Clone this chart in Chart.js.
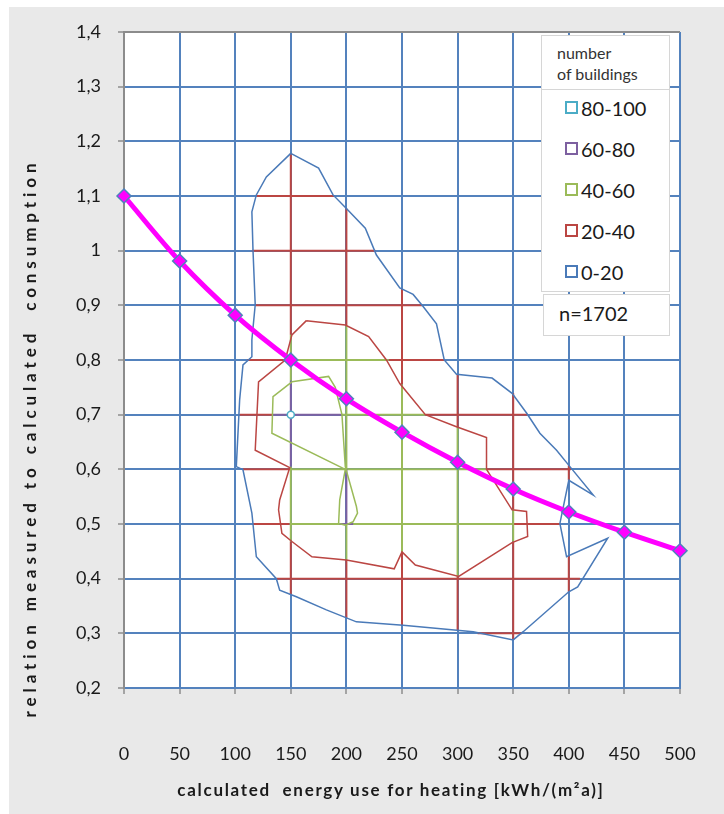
<!DOCTYPE html>
<html>
<head>
<meta charset="utf-8">
<title>Measured vs calculated heating consumption</title>
<script src="https://cdn.jsdelivr.net/npm/chart.js@4.4.1/dist/chart.umd.min.js"></script>
<style>
  html, body { margin: 0; padding: 0; background: #fff; }
  #page  { position: relative; width: 724px; height: 814px; overflow: hidden;
           font-family: Lato, 'Open Sans', sans-serif; color: #1a1a1a; }
  #panel { position: absolute; left: 9px; top: 7px; width: 715px; height: 807px; background: #e9e9e9; }
  #chart { position: absolute; left: 0; top: 0; }

  .axis-title { position: absolute; font-weight: 700; font-size: 17px; white-space: pre;
                text-align: center; width: 700px; height: 20px; line-height: 20px; }
  #y-title { left: -320px; top: 428px; transform: rotate(-90deg); letter-spacing: 4.9px; }
  #x-title { left: 41px; top: 780px; letter-spacing: 1.7px; }

  .legend-box { position: absolute; background: #fff; border: 1px solid #d6d6d6; box-sizing: border-box; }
  #legend     { left: 541px; top: 35px; width: 129px; height: 257px; }
  #legend-head { height: 54px; box-sizing: border-box; padding: 6px 0 0 15px; font-size: 16px;
                 line-height: 21px; border-bottom: 1px solid #d6d6d6; color: #333; }
  #legend-rows { margin-top: -3px; }
  .legend-row { height: 41px; display: flex; align-items: center; padding-left: 23px; font-size: 20px; }
  .legend-swatch { flex: none; width: 13px; height: 13px; box-sizing: border-box; border: 2px solid;
                   margin-right: 3px; background: #fff; }
  #sample { left: 543px; top: 294px; width: 127px; height: 42px; font-size: 20px;
            line-height: 36px; padding-left: 15px; }
</style>
</head>
<body>
<div id="page">
  <div id="panel"><canvas id="chart" width="715" height="807"></canvas></div>
  <div class="axis-title" id="y-title">relation measured to calculated  consumption</div>
  <div class="axis-title" id="x-title">calculated  energy use for heating [kWh/(m²a)]</div>
  <div class="legend-box" id="legend">
    <div id="legend-head"></div>
    <div id="legend-rows"></div>
  </div>
  <div class="legend-box" id="sample"></div>
</div>

<script>
// ── Axis ticks ────────────────────────────────────────────────────────────────
const X_TICKS = [0, 50, 100, 150, 200, 250, 300, 350, 400, 450, 500]
const Y_TICKS = [0.2, 0.3, 0.4, 0.5, 0.6, 0.7, 0.8, 0.9, 1.0, 1.1, 1.2, 1.3, 1.4]

// ── Trend curve (magenta) ─────────────────────────────────────────────────────
const TREND_X = [0, 50, 100, 150, 200, 250, 300, 350, 400, 450, 500]
const TREND_Y = [1.1, 0.981, 0.882, 0.8, 0.729, 0.668, 0.613, 0.564, 0.522, 0.485, 0.451]

// ── Contour lines [x, y] ──────────────────────────────────────────────────────
const CONTOUR_0_20 = [
  [150, 1.178], [175, 1.151], [188, 1.102], [200, 1.077], [217, 1.041], [227, 0.992],
  [248, 0.932], [260, 0.92], [269, 0.898], [281, 0.866], [288, 0.80], [299, 0.774],
  [331, 0.767], [349, 0.739], [362, 0.703], [374, 0.666], [389, 0.635], [401, 0.605],
  [422, 0.553], [400, 0.58], [392, 0.501], [398, 0.44], [435, 0.474], [408, 0.385],
  [400, 0.376], [359, 0.303], [350, 0.288], [314, 0.303], [251, 0.315], [209, 0.321],
  [182, 0.343], [155, 0.367], [140, 0.379], [137, 0.40], [119, 0.44], [115, 0.52],
  [107, 0.599], [101, 0.605], [104, 0.727], [107, 0.791], [115, 0.806], [115, 0.837],
  [118, 0.901], [116, 1.001], [115, 1.071], [119, 1.102], [128, 1.135], [150, 1.178],
]
const CONTOUR_20_40 = [
  [164, 0.872], [199, 0.864], [220, 0.843], [236, 0.80], [248, 0.757], [271, 0.70],
  [299, 0.678], [326, 0.658], [326, 0.60], [349, 0.526], [362, 0.523], [363, 0.477],
  [349, 0.466], [301, 0.404], [262, 0.425], [250, 0.449], [243, 0.418], [200, 0.434],
  [169, 0.44], [151, 0.468], [142, 0.483], [139, 0.526], [140, 0.544], [149, 0.603],
  [118, 0.635], [121, 0.76], [145, 0.80], [151, 0.846], [164, 0.872],
]
const CONTOUR_40_60 = [
  [151, 0.76], [184, 0.77], [190, 0.75], [196, 0.70], [199, 0.605], [209, 0.532],
  [210, 0.52], [206, 0.504], [199, 0.498], [193, 0.501], [194, 0.544], [199, 0.60],
  [133, 0.666], [134, 0.733], [151, 0.76],
]
const PEAK_80_100 = [[150, 0.7]]

// ── Surface mesh coloured by band: horizontal [y, x1, x2], vertical [x, y1, y2] ─
const MESH_H_20_40 = [
  [1.1, 119, 189], [1.0, 115, 226], [0.9, 118, 268], [0.8, 111, 145], [0.8, 238, 288],
  [0.7, 104, 134], [0.7, 271, 363], [0.6, 107, 149], [0.6, 326, 402], [0.5, 116, 149],
  [0.5, 349, 392], [0.4, 137, 410], [0.3, 318, 358],
]
const MESH_V_20_40 = [
  [150, 1.178, 0.846], [150, 0.468, 0.371], [200, 1.077, 0.864], [200, 0.434, 0.328],
  [250, 0.930, 0.755], [250, 0.449, 0.315], [300, 0.774, 0.677], [300, 0.404, 0.306],
  [350, 0.739, 0.527], [350, 0.468, 0.288], [400, 0.607, 0.58], [400, 0.442, 0.376],
]
const MESH_H_40_60 = [[0.8, 145, 238], [0.7, 196, 271], [0.6, 149, 326], [0.5, 149, 194], [0.5, 206, 349]]
const MESH_V_40_60 = [
  [150, 0.846, 0.762], [150, 0.605, 0.468], [200, 0.864, 0.6], [200, 0.5, 0.434],
  [250, 0.755, 0.449], [300, 0.677, 0.404], [350, 0.527, 0.468],
]
const MESH_H_60_80 = [[0.7, 134, 196], [0.5, 194, 206]]
const MESH_V_60_80 = [[150, 0.762, 0.605], [200, 0.6, 0.5]]

// ── Legend ────────────────────────────────────────────────────────────────────
const LEGEND_TITLE  = ['number', 'of buildings']
const LEGEND_LABELS = ['80-100', '60-80', '40-60', '20-40', '0-20']
const SAMPLE_TEXT   = 'n=1702'

// ── Colours ───────────────────────────────────────────────────────────────────
const BAND_COLOR = {
  '80-100': '#4bacc6', '60-80': '#7d60a0', '40-60': '#9bbb59', '20-40': '#bb4643', '0-20': '#4a7ab8',
}
const GRID_BLUE = '#5482bd'
const AXIS_GRAY = '#8c8c8c'
const MAGENTA   = '#ff00ff'

// ── Helpers ───────────────────────────────────────────────────────────────────
const toPoints = pairs => pairs.map(([x, y]) => ({ x, y }))

function meshPoints(horizontal, vertical) {
  const pts = []
  horizontal.forEach(([y, x1, x2]) => pts.push({ x: x1, y }, { x: x2, y }, { x: x2, y: null }))
  vertical.forEach(([x, y1, y2]) => pts.push({ x, y: y1 }, { x, y: y2 }, { x, y: null }))
  return pts
}

const fmtTick = v => Math.abs(v - 1) < 1e-9 ? '1' : v.toFixed(1).replace('.', ',')

function lineSet(data, color, width, order) {
  return {
    data, showLine: true, borderColor: color, borderWidth: width,
    pointRadius: 0, pointHoverRadius: 0, tension: 0, order,
  }
}

// keep the plot box fixed: no extra room for half-labels at the ends
function fixBox(size) {
  return s => {
    if (s.isHorizontal()) s.height = size
    else s.width = size
    s.paddingLeft = s.paddingRight = s.paddingTop = s.paddingBottom = 0
  }
}

// ── Plot background ───────────────────────────────────────────────────────────
const plotBackground = {
  id: 'plotBackground',
  beforeDraw(chart) {
    const { ctx, chartArea: a } = chart
    ctx.save()
    ctx.fillStyle = '#fff'
    ctx.fillRect(a.left, a.top, a.width, a.height)
    ctx.restore()
  },
}

// ── Chart ─────────────────────────────────────────────────────────────────────
const tickFont = { family: 'Lato, sans-serif', size: 18 }

new Chart(document.getElementById('chart'), {
  type: 'scatter',
  data: {
    datasets: [
      {
        data: TREND_X.map((x, i) => ({ x, y: TREND_Y[i] })),
        showLine: true, borderColor: MAGENTA, borderWidth: 5, tension: 0.35,
        pointStyle: 'rectRot', pointRadius: 7, pointBackgroundColor: MAGENTA,
        pointBorderColor: '#4f81bd', pointBorderWidth: 1.5, clip: false, order: 0,
      },
      {
        data: toPoints(PEAK_80_100), pointRadius: 3.5, pointBorderWidth: 1.5,
        pointBorderColor: BAND_COLOR['80-100'], pointBackgroundColor: '#fff', order: 1,
      },
      lineSet(toPoints(CONTOUR_40_60), BAND_COLOR['40-60'], 1.5, 2),
      lineSet(toPoints(CONTOUR_20_40), BAND_COLOR['20-40'], 1.5, 2),
      lineSet(toPoints(CONTOUR_0_20),  BAND_COLOR['0-20'],  1.5, 2),
      lineSet(meshPoints(MESH_H_60_80, MESH_V_60_80), BAND_COLOR['60-80'], 2, 3),
      lineSet(meshPoints(MESH_H_40_60, MESH_V_40_60), BAND_COLOR['40-60'], 2, 3),
      lineSet(meshPoints(MESH_H_20_40, MESH_V_20_40), BAND_COLOR['20-40'], 2, 3),
    ],
  },
  options: {
    responsive: false,
    animation:  false,
    events:     [],
    layout: { padding: { left: 0, top: 25, right: 44, bottom: 0 } },
    plugins: { legend: { display: false }, tooltip: { enabled: false } },
    scales: {
      x: {
        type: 'linear', min: 0, max: 500,
        afterBuildTicks: s => { s.ticks = X_TICKS.map(value => ({ value })) },
        afterFit: fixBox(126),
        ticks: { font: tickFont, color: '#1a1a1a', padding: 49, maxRotation: 0, callback: v => String(v) },
        grid:   { color: GRID_BLUE, lineWidth: 2, tickColor: AXIS_GRAY, tickLength: 6, tickWidth: 1.5 },
        border: { color: GRID_BLUE, width: 2 },
      },
      y: {
        type: 'linear', min: 0.2, max: 1.4,
        afterBuildTicks: s => { s.ticks = Y_TICKS.map(value => ({ value })) },
        afterFit: fixBox(115),
        ticks: { font: tickFont, color: '#1a1a1a', padding: 17, callback: fmtTick },
        grid: {
          color: c => c.tick && Math.abs(c.tick.value - 1.4) < 1e-9 ? AXIS_GRAY : GRID_BLUE,
          lineWidth: 2, tickColor: AXIS_GRAY, tickLength: 6, tickWidth: 1.5,
        },
        border: { color: AXIS_GRAY, width: 2 },
      },
    },
  },
  plugins: [plotBackground],
})

// ── Legend (html) ─────────────────────────────────────────────────────────────
document.getElementById('legend-head').innerHTML = LEGEND_TITLE.join('<br>')
document.getElementById('legend-rows').innerHTML = LEGEND_LABELS.map(l => `
  <div class="legend-row">
    <span class="legend-swatch" style="border-color:${BAND_COLOR[l]}"></span>${l}
  </div>
`).join('')
document.getElementById('sample').textContent = SAMPLE_TEXT
</script>
</body>
</html>
